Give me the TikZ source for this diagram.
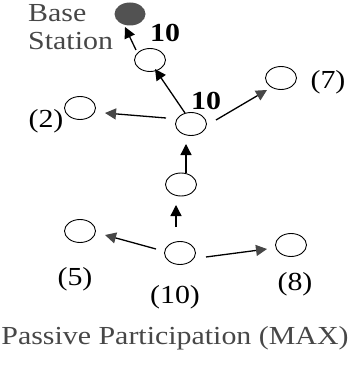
\documentclass[tikz,border=0pt]{standalone}
\usepackage{fontspec}
\setmainfont{Liberation Serif}
\usetikzlibrary{shapes.geometric,arrows.meta,calc}
\tikzset{
  sensor/.style={draw=black, line width=0.9pt, ellipse, minimum width=31pt, minimum height=23pt, inner sep=0pt},
  basestn/.style={sensor, draw=none, fill=black!68},
  arr/.style={line width=1.3pt, -{Triangle[length=11pt,width=11pt]}},
  garr/.style={arr, -{Triangle[length=11pt,width=11pt,fill=black!72,color=black!72]}},
  lbl/.style={inner sep=0pt, font=\fontsize{26}{28}\selectfont, xscale=1.15, transform shape},
  glbl/.style={lbl, text=black!72},
  cnt/.style={lbl, font=\fontsize{26}{28}\selectfont\bfseries}
}
\begin{document}
\begin{tikzpicture}[x=1pt, y=-1pt]
\useasboundingbox (0,0) rectangle (349,366);

% sensor field
\node[basestn] (bs)  at (130,14)  {};
\node[sensor]  (a)   at (150,60)  {};
\node[sensor]  (n2)  at (80,108)  {};
\node[sensor]  (hub) at (191,124) {};
\node[sensor]  (n7)  at (281,78)  {};
\node[sensor]  (mid) at (181,184.5) {};
\node[sensor]  (n5)  at (80,231)  {};
\node[sensor]  (bot) at (180,253) {};
\node[sensor]  (n8)  at (291,245) {};

% forwarding paths
\draw[arr]  ($(a)+(-14,-10)$)  -- ($(bs)+(-5,13)$);
\draw[arr]  ($(hub)+(-6,-11)$) -- ($(a)+(5,9)$);
\draw[garr] ($(hub)+(-25,-6)$) -- ($(n2)+(25,5)$);
\draw[garr] ($(hub)+(25,-4)$)  -- ($(n7)+(-14,12)$);
\draw[arr]  ($(mid)+(5,-11.5)$) -- ($(hub)+(-5,20)$);
\draw[arr]  ($(bot)+(-4,-26)$) -- ($(mid)+(-5,20.5)$);
\draw[garr] ($(bot)+(-24,-4)$) -- ($(n5)+(25,4)$);
\draw[garr] ($(bot)+(26,4)$)   -- ($(n8)+(-24,4)$);

% labels
\node[glbl, anchor=base west] (tb) at (28,22) {Base};
\node[glbl, anchor=base west] (ts) at (28,50) {Station};
\node[cnt] (c1) at (165,33)  {10};
\node[cnt] (c2) at (206,101) {10};
\node[lbl] (l2)  at (46,121)  {(2)};
\node[lbl] (l7)  at (328,82)  {(7)};
\node[lbl] (l5)  at (75,279)  {(5)};
\node[lbl] (l10) at (175,297) {(10)};
\node[lbl] (l8)  at (295,284) {(8)};
\node[glbl] (cap) at (175,338) {Passive Participation (MAX)};
\end{tikzpicture}
\end{document}
